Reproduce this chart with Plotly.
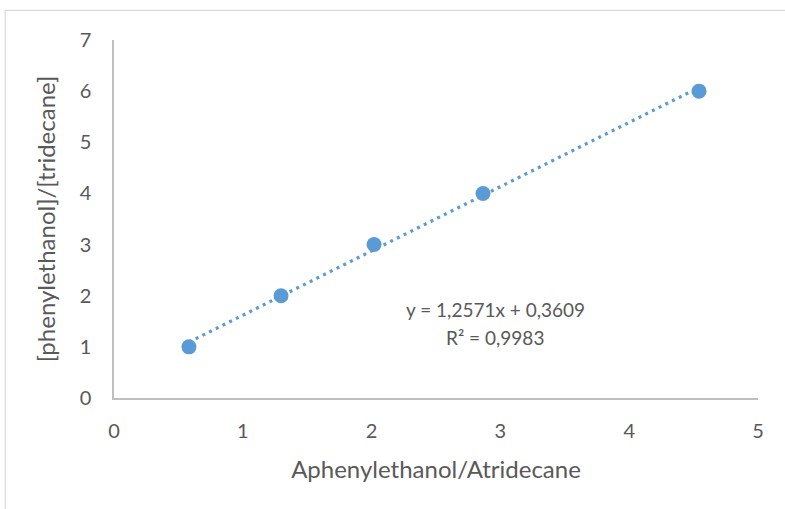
import plotly.graph_objects as go

# Peak-area ratio vs. concentration ratio (calibration data)
area_ratio = [0.582, 1.297, 2.019, 2.865, 4.542]
conc_ratio = [1, 2, 3, 4, 6]

# Linear trendline reported on the chart
slope = 1.2571
intercept = 0.3609
r_squared = 0.9983

x_ticks = [0, 1, 2, 3, 4, 5]
y_ticks = [0, 1, 2, 3, 4, 5, 6, 7]

x_title = "Aphenylethanol/Atridecane"
y_title = "[phenylethanol]/[tridecane]"

blue = "#5B9BD5"
text_grey = "#595959"
axis_grey = "#BFBFBF"
font_family = "Lato, 'DejaVu Sans', sans-serif"

fit_x = [min(area_ratio), max(area_ratio)]
fit_y = [slope * v + intercept for v in fit_x]

fig = go.Figure()
fig.add_trace(go.Scatter(
    x=fit_x, y=fit_y, mode="lines",
    line=dict(color=blue, width=3.2, dash="3px,4.5px"),
    hoverinfo="skip", showlegend=False,
))
fig.add_trace(go.Scatter(
    x=area_ratio, y=conc_ratio, mode="markers",
    marker=dict(color=blue, size=15, line=dict(width=0)),
    showlegend=False,
))

# Trendline equation and coefficient of determination (decimal comma)
eq_line = f"y = {slope:.4f}x + {intercept:.4f}".replace(".", ",")
r2_line = f"R² = {r_squared:.4f}".replace(".", ",")
for txt, ypos in [(eq_line, 1.73), (r2_line, 1.19)]:
    fig.add_annotation(
        x=2.96, y=ypos, xref="x", yref="y", text=txt, showarrow=False,
        font=dict(family=font_family, size=19, color=text_grey), align="center",
    )

# Outer chart-area border
fig.add_shape(
    type="rect", xref="paper", yref="paper",
    x0=-0.169, x1=1.2, y0=-0.5, y1=1.083,
    line=dict(color="#D9D9D9", width=1.2), fillcolor="rgba(0,0,0,0)",
)

fig.update_xaxes(
    range=[0, 5], tickvals=x_ticks, showgrid=False, zeroline=False,
    showline=True, linecolor=axis_grey, linewidth=1.5,
    ticks="", ticklabelstandoff=14,
    tickfont=dict(family=font_family, size=20, color=text_grey),
    title=dict(text=x_title, standoff=20,
               font=dict(family=font_family, size=24, color=text_grey)),
)
fig.update_yaxes(
    range=[0, 7], tickvals=y_ticks, showgrid=False, zeroline=False,
    showline=True, linecolor=axis_grey, linewidth=1.5,
    ticks="", ticklabelstandoff=17,
    tickfont=dict(family=font_family, size=20, color=text_grey),
    title=dict(text=y_title, standoff=17,
               font=dict(family=font_family, size=24, color=text_grey)),
)

fig.update_layout(
    width=785, height=509,
    margin=dict(l=114, r=27, t=40, b=111),
    paper_bgcolor="white", plot_bgcolor="white",
)

fig.write_html("out.html")
